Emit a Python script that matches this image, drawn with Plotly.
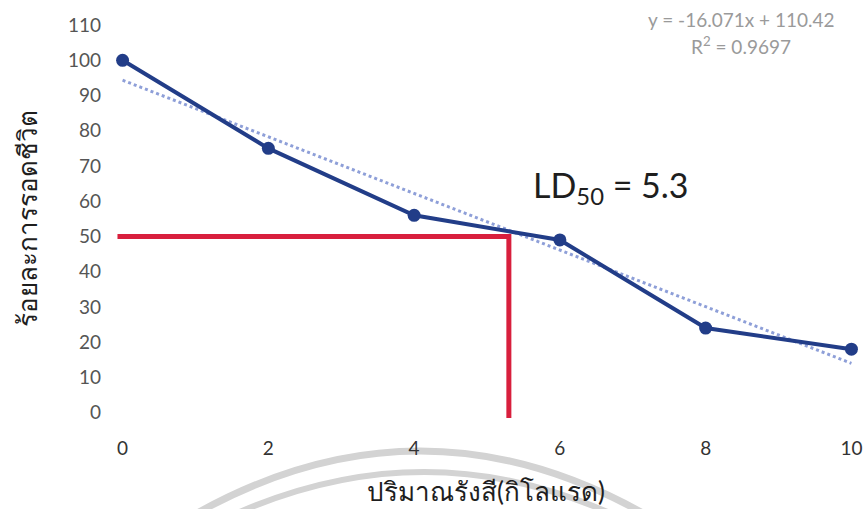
import numpy as np
import plotly.graph_objects as go

# Survival (%) versus radiation dose (krad)
dose = [0, 2, 4, 6, 8, 10]
survival = [100, 75, 56, 49, 24, 18]

# Linear trendline as reported (fitted against point index 1..n)
trend_slope = -16.071
trend_intercept = 110.42
r_squared = 0.9697

# Dose giving 50 % survival
ld50 = 5.3
half_survival = 50

x_ticks = [0, 2, 4, 6, 8, 10]
y_ticks = list(range(0, 111, 10))

x_title = "ปริมาณรังสี(กิโลแรด)"
y_title = "ร้อยละการรอดชีวิต"

# Canvas / plot-area geometry (pixels)
W, H = 868, 509
ML, MR, MT, MB = 108, 2, 18, 77
PW, PH = W - ML - MR, H - MT - MB


def px(x):
    return (x - ML) / PW


def py(y):
    return (H - MB - y) / PH


fig = go.Figure()

# LD50 guide: across at 50 % and down to the dose axis
fig.add_trace(go.Scatter(
    x=[dose[0] - 0.07, ld50, ld50],
    y=[half_survival, half_survival, -1.5],
    mode="lines",
    line=dict(color="#d81f3d", width=5),
    hoverinfo="skip",
))

# Trendline from the reported equation
idx = np.arange(1, len(dose) + 1)
trend = trend_slope * idx + trend_intercept
fig.add_trace(go.Scatter(
    x=dose, y=trend, mode="lines",
    line=dict(color="#8e9fd8", width=3, dash="dot"),
    hoverinfo="skip",
))

# Observed survival
fig.add_trace(go.Scatter(
    x=dose, y=survival, mode="lines+markers",
    line=dict(color="#223d88", width=4),
    marker=dict(color="#223d88", size=13),
))

font_family = "Lato, 'Noto Sans', 'DejaVu Sans', sans-serif"

annotations = [
    dict(x=px(741), y=py(19), text=f"y = {trend_slope}x + {trend_intercept}",
         font=dict(size=19, color="#9a9a9a")),
    dict(x=px(741), y=py(46), text=f"R<sup>2</sup> = {r_squared}",
         font=dict(size=19, color="#9a9a9a")),
    dict(x=px(611), y=py(187), text=f"LD<sub>50</sub> = {ld50}",
         font=dict(size=34, color="#1e1e1e")),
    dict(x=px(486), y=py(491), text=x_title,
         font=dict(size=26, color="#1e1e1e")),
    dict(x=px(27), y=py(219), text=y_title, textangle=-90,
         font=dict(size=26, color="#1e1e1e")),
]
for a in annotations:
    a.update(xref="paper", yref="paper", xanchor="center", yanchor="middle",
             showarrow=False)


def bezier_path(p0, c, p1):
    return (f"M {px(p0[0])},{py(p0[1])} Q {px(c[0])},{py(c[1])} "
            f"{px(p1[0])},{py(p1[1])}")


# Faint double arc across the bottom of the page
shapes = [
    dict(type="path", xref="paper", yref="paper", layer="below",
         path=bezier_path((185, 520), (420, 382), (655, 520)),
         line=dict(color="#d3d3d3", width=7)),
    dict(type="path", xref="paper", yref="paper", layer="below",
         path=bezier_path((222, 520), (425, 424), (625, 520)),
         line=dict(color="#d3d3d3", width=6)),
]

fig.update_layout(
    width=W, height=H,
    margin=dict(l=ML, r=MR, t=MT, b=MB),
    paper_bgcolor="white", plot_bgcolor="white",
    showlegend=False,
    font=dict(family=font_family),
    annotations=annotations,
    shapes=shapes,
)
fig.update_xaxes(
    range=[-0.2, 10.2], tickvals=x_ticks, showgrid=False, zeroline=False,
    showline=False, ticks="", ticklabelstandoff=3,
    tickfont=dict(size=19, color="#333333"),
)
fig.update_yaxes(
    range=[-5.5, 112], tickvals=y_ticks, showgrid=False, zeroline=False,
    showline=False, ticks="", ticklabelstandoff=6,
    tickfont=dict(size=19, color="#555555"),
)

fig.write_html("out.html")
